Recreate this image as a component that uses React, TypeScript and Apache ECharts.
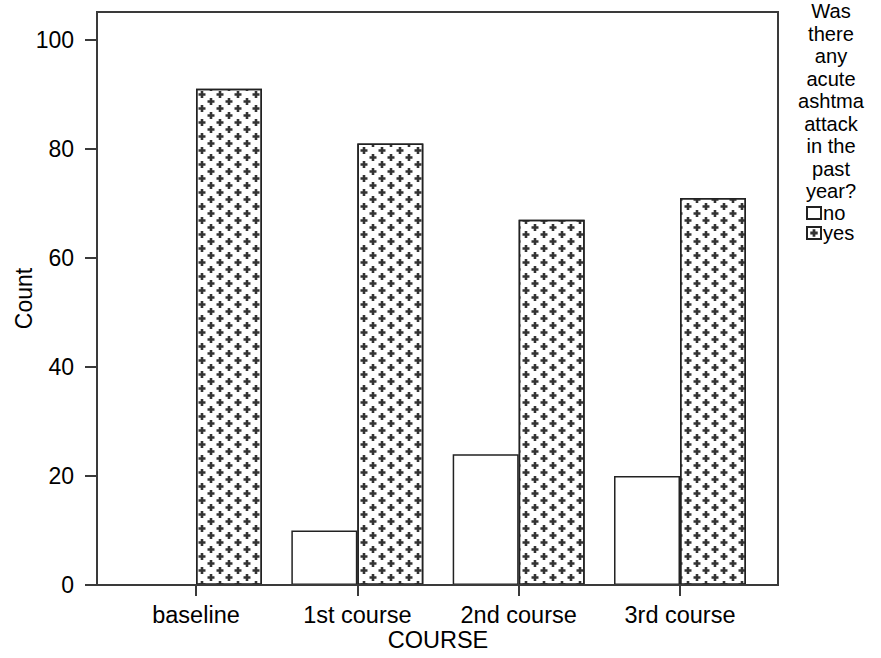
import React, { useEffect, useRef } from "react";
import * as echarts from "echarts";

const categories = ["baseline", "1st course", "2nd course", "3rd course"];
const noValues = [0, 10, 24, 20];
const yesValues = [91, 81, 67, 71];
const yTicks = [0, 20, 40, 60, 80, 100];
const legendTitleWords = ["Was", "there", "any", "acute", "ashtma", "attack", "in the", "past", "year?"];
const seriesNames = ["no", "yes"];

const FONT = "'Liberation Sans', Arial, Helvetica, sans-serif";
const LINE = "#3a3a3a";
const PLUS = "path://M2.2,0h2.6v2.2h2.2v2.6h-2.2v2.2h-2.6v-2.2h-2.2v-2.6h2.2z";

export default function App() {
  const ref = useRef<HTMLDivElement>(null);
  useEffect(() => {
    if (!ref.current) return;
    const chart = echarts.init(ref.current, null, { renderer: "svg" });
    const decal = {
      symbol: PLUS,
      symbolSize: 1,
      color: "#333333",
      backgroundColor: "#ffffff",
      dashArrayX: [[8, 10], [0, 9, 8, 1]],
      dashArrayY: [7, 0],
    };
    const legendDecal = {
      symbol: PLUS,
      symbolSize: 0.62,
      color: "#333333",
      backgroundColor: "#ffffff",
      dashArrayX: [[14, 0]],
      dashArrayY: [12, 0],
    };
    chart.setOption({
      animation: false,
      backgroundColor: "#ffffff",
      textStyle: { fontFamily: FONT },
      grid: { left: 115.33, right: 120.33, top: 12, bottom: 73, containLabel: false, outerBoundsMode: "none" },
      xAxis: {
        type: "category",
        data: categories,
        name: "COURSE",
        nameLocation: "middle",
        nameGap: 43,
        nameMoveOverlap: false,
        nameTextStyle: { fontSize: 23.5, color: "#000", fontFamily: FONT },
        axisLine: { show: false },
        axisTick: { show: true, alignWithLabel: true, length: 11, lineStyle: { color: LINE, width: 2 } },
        axisLabel: { fontSize: 23.5, color: "#000", margin: 18, fontFamily: FONT },
      },
      yAxis: {
        type: "value",
        min: 0,
        max: 105.1,
        offset: 18.33,
        name: "Count",
        nameLocation: "middle",
        nameGap: 62,
        nameMoveOverlap: false,
        nameRotate: 90,
        nameTextStyle: { fontSize: 23, color: "#000", fontFamily: FONT },
        splitLine: { show: false },
        axisLine: { show: false },
        axisTick: { show: true, length: 12, customValues: yTicks, lineStyle: { color: LINE, width: 2 } },
        axisLabel: { fontSize: 23, color: "#000", margin: 23, customValues: yTicks, fontFamily: FONT },
      },
      legend: {
        orient: "vertical",
        left: 806,
        top: 203,
        padding: 0,
        itemGap: 0,
        itemWidth: 14,
        itemHeight: 12,
        icon: "rect",
        data: [
          { name: seriesNames[0] },
          { name: seriesNames[1], itemStyle: { decal: legendDecal } },
        ],
        textStyle: { fontSize: 20.1, color: "#000", fontFamily: FONT, padding: [0, 0, 0, -3] },
      },
      graphic: [
        {
          type: "rect",
          shape: { x: 97, y: 12, width: 681, height: 573 },
          style: { fill: "none", stroke: LINE, lineWidth: 2 },
          z: 10,
          silent: true,
        },
        {
          type: "text",
          x: 831,
          y: 0,
          style: {
            text: legendTitleWords.join("\n"),
            fontSize: 20.1,
            fontFamily: FONT,
            fill: "#000",
            align: "center",
            lineHeight: 22.5,
          },
        },
      ],
      series: [
        {
          name: seriesNames[0],
          type: "bar",
          data: noValues,
          barGap: "0%",
          barCategoryGap: "18.2%",
          itemStyle: { color: "#ffffff", borderColor: "#222", borderWidth: 1.5 },
        },
        {
          name: seriesNames[1],
          type: "bar",
          data: yesValues,
          barGap: "0%",
          barCategoryGap: "18.2%",
          itemStyle: { color: "#ffffff", borderColor: "#222", borderWidth: 1.5, decal },
        },
      ],
    });
    return () => chart.dispose();
  }, []);
  return <div ref={ref} style={{ width: 881, height: 658, position: "absolute", left: 0, top: 0 }} />;
}
